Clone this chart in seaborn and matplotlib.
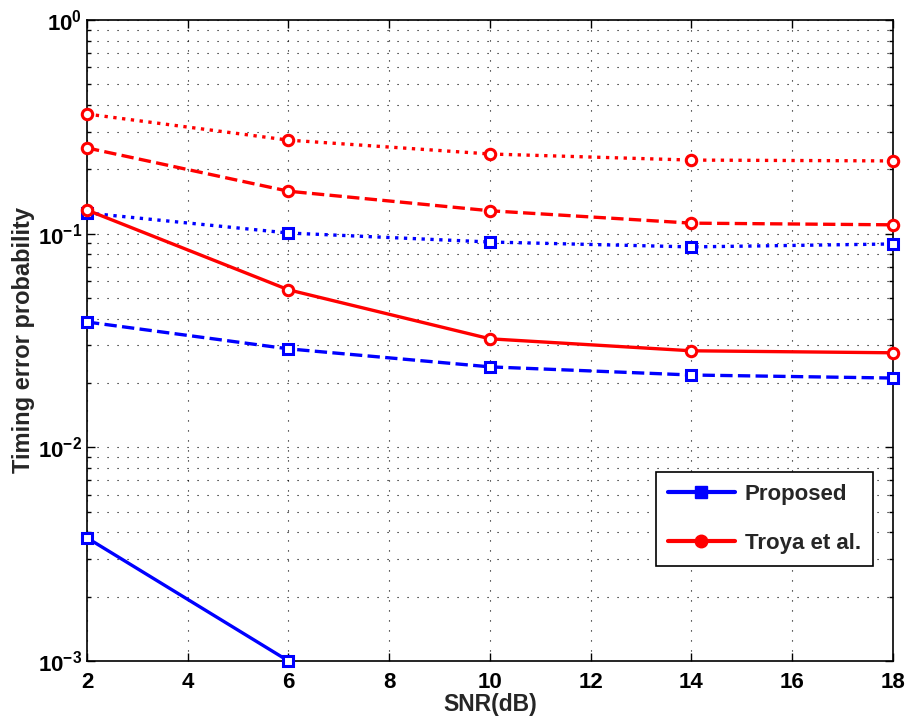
import numpy as np
import matplotlib
matplotlib.use("Agg")
import matplotlib.pyplot as plt
import matplotlib.ticker as mticker
from matplotlib.lines import Line2D
import seaborn as sns

# SNR grid and timing error probability
snr = [2, 6, 10, 14, 18]

proposed_solid = [0.00377, 0.001]
proposed_dashed = [0.0386, 0.0289, 0.0238, 0.0218, 0.0211]
proposed_dotted = [0.125, 0.1007, 0.0914, 0.0867, 0.0895]

troya_solid = [0.129, 0.0546, 0.0322, 0.0283, 0.0277]
troya_dashed = [0.252, 0.158, 0.128, 0.112, 0.110]
troya_dotted = [0.363, 0.274, 0.236, 0.221, 0.219]

y_ticks = [1e-3, 1e-2, 1e-1, 1e0]
y_tick_labels = [r"$\mathbf{10^{-3}}$", r"$\mathbf{10^{-2}}$",
                 r"$\mathbf{10^{-1}}$", r"$\mathbf{10^{0}}$"]

sns.set_style("ticks")
plt.rcParams["font.family"] = ["Liberation Sans", "DejaVu Sans"]
plt.rcParams["font.weight"] = "bold"
plt.rcParams["mathtext.fontset"] = "custom"
plt.rcParams["mathtext.bf"] = "Liberation Sans:bold"
plt.rcParams["mathtext.rm"] = "Liberation Sans:bold"

fig = plt.figure(figsize=(9.09, 7.22), dpi=100)
ax = fig.add_axes([0.0957, 0.0845, 0.8867, 0.8878])

series = [
    (snr[:2], proposed_solid, "blue", "-", "s"),
    (snr, proposed_dashed, "blue", "--", "s"),
    (snr, proposed_dotted, "blue", ":", "s"),
    (snr, troya_solid, "red", "-", "o"),
    (snr, troya_dashed, "red", "--", "o"),
    (snr, troya_dotted, "red", ":", "o"),
]

for xs, ys, col, ls, mk in series:
    sns.lineplot(x=xs, y=ys, ax=ax, color=col, linestyle=ls, linewidth=2.4,
                 marker=mk, markersize=7.5, markerfacecolor="white",
                 markeredgecolor=col, markeredgewidth=2.2, clip_on=False,
                 zorder=3)

ax.set_yscale("log")
ax.set_xlim(2, 18)
ax.set_ylim(1e-3, 1)
ax.set_xticks(range(2, 19, 2))
ax.set_yticks(y_ticks)
ax.set_yticklabels(y_tick_labels)
ax.yaxis.set_minor_locator(mticker.LogLocator(base=10, subs=np.arange(2, 10)))
ax.yaxis.set_minor_formatter(mticker.NullFormatter())

ax.tick_params(axis="both", which="both", direction="in", top=True, right=True,
               labelsize=16, width=1, colors="black")
ax.tick_params(axis="both", which="major", length=6)
ax.tick_params(axis="both", which="minor", length=3)
ax.tick_params(axis="x", which="major", pad=8)
for lab in ax.get_xticklabels():
    lab.set_fontweight("bold")

grid_ls = (0, (1, 8))
ax.grid(True, which="major", color="black", linestyle=grid_ls, linewidth=0.8)
ax.grid(True, which="minor", axis="y", color="black", linestyle=grid_ls,
        linewidth=0.8)
for sp in ax.spines.values():
    sp.set_visible(True)
    sp.set_color("black")
    sp.set_linewidth(1.2)

ax.set_xlabel("SNR(dB)", fontsize=16.5, fontweight="bold", labelpad=0)
ax.set_ylabel("Timing error probability", fontsize=17, fontweight="bold", labelpad=2)

handles = [
    Line2D([], [], color="blue", lw=3, marker="s", markersize=9,
           markerfacecolor="blue", markeredgecolor="blue"),
    Line2D([], [], color="red", lw=3, marker="o", markersize=9,
           markerfacecolor="red", markeredgecolor="red"),
]
leg = ax.legend(handles, ["Proposed", "Troya et al."], loc="lower right",
                bbox_to_anchor=(0.975, 0.148), borderaxespad=0, fontsize=16,
                frameon=True, fancybox=False, edgecolor="black", framealpha=1,
                labelspacing=1.25, handlelength=3.0, borderpad=0.55,
                handletextpad=0.45)
leg.get_frame().set_linewidth(1.2)
for t in leg.get_texts():
    t.set_fontweight("bold")

fig.savefig("out.png", dpi=100)
